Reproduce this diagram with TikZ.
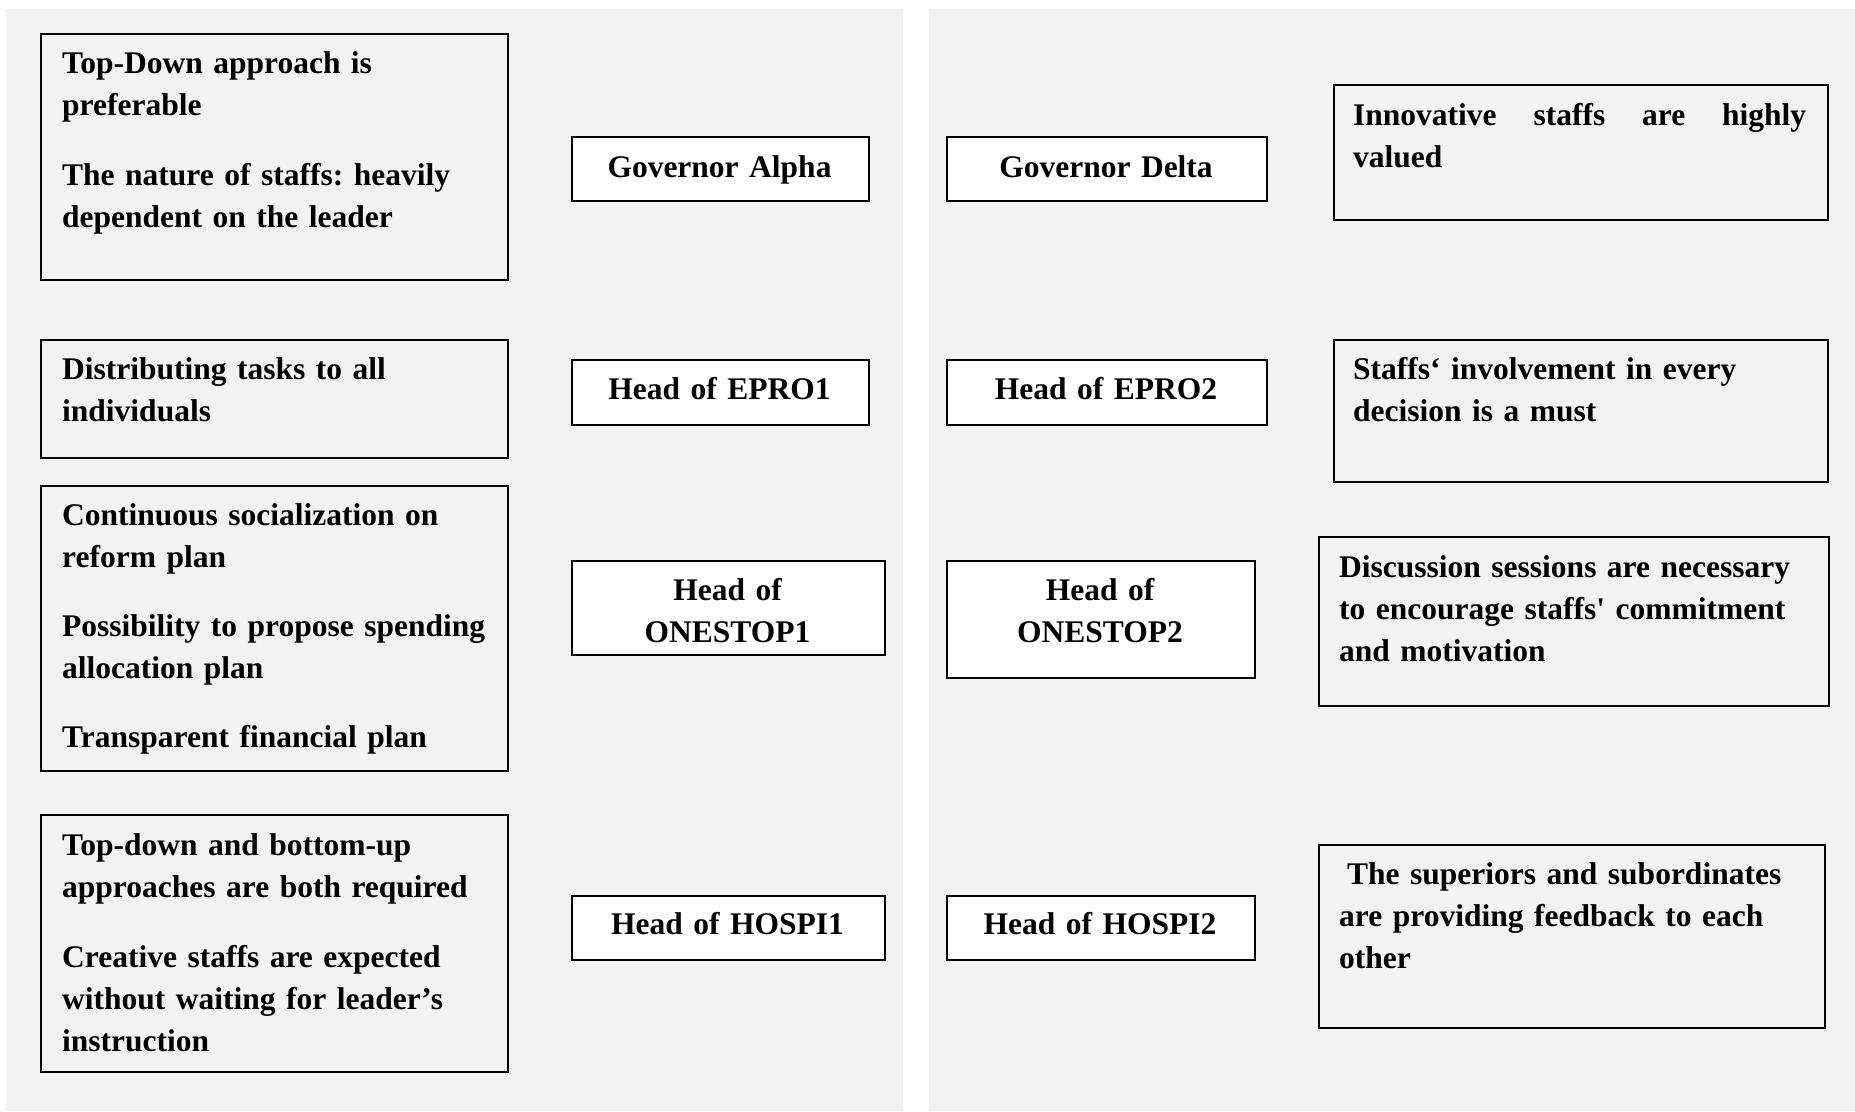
\documentclass[tikz,border=0pt]{standalone}
\usepackage{fontspec}
\setmainfont{Liberation Serif}
\font\rawquote="Liberation Serif/B" at 31.5pt
\newcommand{\straightq}{{\rawquote\char"27}}
\definecolor{panelgray}{HTML}{F2F2F2}
\tikzset{
  panel/.style={fill=panelgray, draw=none},
  tbox/.style={draw=black, line width=2pt, rectangle, inner sep=0pt, anchor=north west},
  wbox/.style={tbox, fill=white},
  txt/.style={inner sep=0pt, anchor=base west, text width=460pt, align=left,
    font=\fontsize{31.5pt}{42pt}\selectfont\bfseries\frenchspacing},
  ctxt/.style={inner sep=0pt, anchor=base, text width=320pt, align=center,
    font=\fontsize{31.5pt}{42pt}\selectfont\bfseries\frenchspacing}
}
\begin{document}
\begin{tikzpicture}[x=1pt, y=-1pt]
\fill[white] (0,0) rectangle (1855,1111);
\useasboundingbox (0,0) rectangle (1855,1111);
\fill[panel] (6,9) rectangle (903,1111);
\fill[panel] (929,9) rectangle (1855,1111);

% left boxes
\node[tbox, minimum width=467pt, minimum height=246pt] (L1) at (40,33) {};
\node[tbox, minimum width=467pt, minimum height=118pt] (L2) at (40,339) {};
\node[tbox, minimum width=467pt, minimum height=285pt] (L3) at (40,485) {};
\node[tbox, minimum width=467pt, minimum height=257pt] (L4) at (40,814) {};

% middle boxes
\node[wbox, minimum width=297pt, minimum height=64pt] (GA) at (571,136) {};
\node[wbox, minimum width=297pt, minimum height=65pt] (E1) at (571,359) {};
\node[wbox, minimum width=313pt, minimum height=94pt] (O1) at (571,560) {};
\node[wbox, minimum width=313pt, minimum height=64pt] (H1) at (571,895) {};
\node[wbox, minimum width=320pt, minimum height=64pt] (GD) at (946,136) {};
\node[wbox, minimum width=320pt, minimum height=65pt] (E2) at (946,359) {};
\node[wbox, minimum width=308pt, minimum height=117pt] (O2) at (946,560) {};
\node[wbox, minimum width=308pt, minimum height=64pt] (H2) at (946,895) {};

% right boxes
\node[tbox, minimum width=494pt, minimum height=135pt] (R1) at (1333,84) {};
\node[tbox, minimum width=494pt, minimum height=142pt] (R2) at (1333,339) {};
\node[tbox, minimum width=510pt, minimum height=169pt] (R3) at (1318,536) {};
\node[tbox, minimum width=506pt, minimum height=183pt] (R4) at (1318,844) {};

% left texts
\node[txt] (tL1) at (62,73) {Top-Down approach is\\preferable\\[28pt]The nature of staffs: heavily\\dependent on the leader};
\node[txt] (tL2) at (62,379) {Distributing tasks to all\\individuals};
\node[txt] (tL3) at (62,525) {Continuous socialization on\\reform plan\\[27pt]Possibility to propose spending\\allocation plan\\[27pt]Transparent financial plan};
\node[txt] (tL4) at (62,855) {Top-down and bottom-up\\approaches are both required\\[28pt]Creative staffs are expected\\without waiting for leader’s\\instruction};

% middle texts
\node[ctxt] (tGA) at (719.5,177) {Governor Alpha};
\node[ctxt] (tE1) at (719.5,399) {Head of EPRO1};
\node[ctxt] (tO1) at (727.5,600) {Head of\\ONESTOP1};
\node[ctxt] (tH1) at (727.5,934) {Head of HOSPI1};
\node[ctxt] (tGD) at (1106,177) {Governor Delta};
\node[ctxt] (tE2) at (1106,399) {Head of EPRO2};
\node[ctxt] (tO2) at (1100,600) {Head of\\ONESTOP2};
\node[ctxt] (tH2) at (1100,934) {Head of HOSPI2};

% right texts
\node[txt, text width=453pt] (tR1) at (1353,125) {Innovative\hfill staffs\hfill are\hfill highly\\valued};
\node[txt] (tR2) at (1353,379) {Staffs‘ involvement in every\\decision is a must};
\node[txt] (tR3) at (1339,577) {Discussion sessions are necessary\\to encourage staffs\straightq{} commitment\\and motivation};
\node[txt] (tR4) at (1339,884) {\hspace*{8pt}The superiors and subordinates\\are providing feedback to each\\other};
\end{tikzpicture}
\end{document}
